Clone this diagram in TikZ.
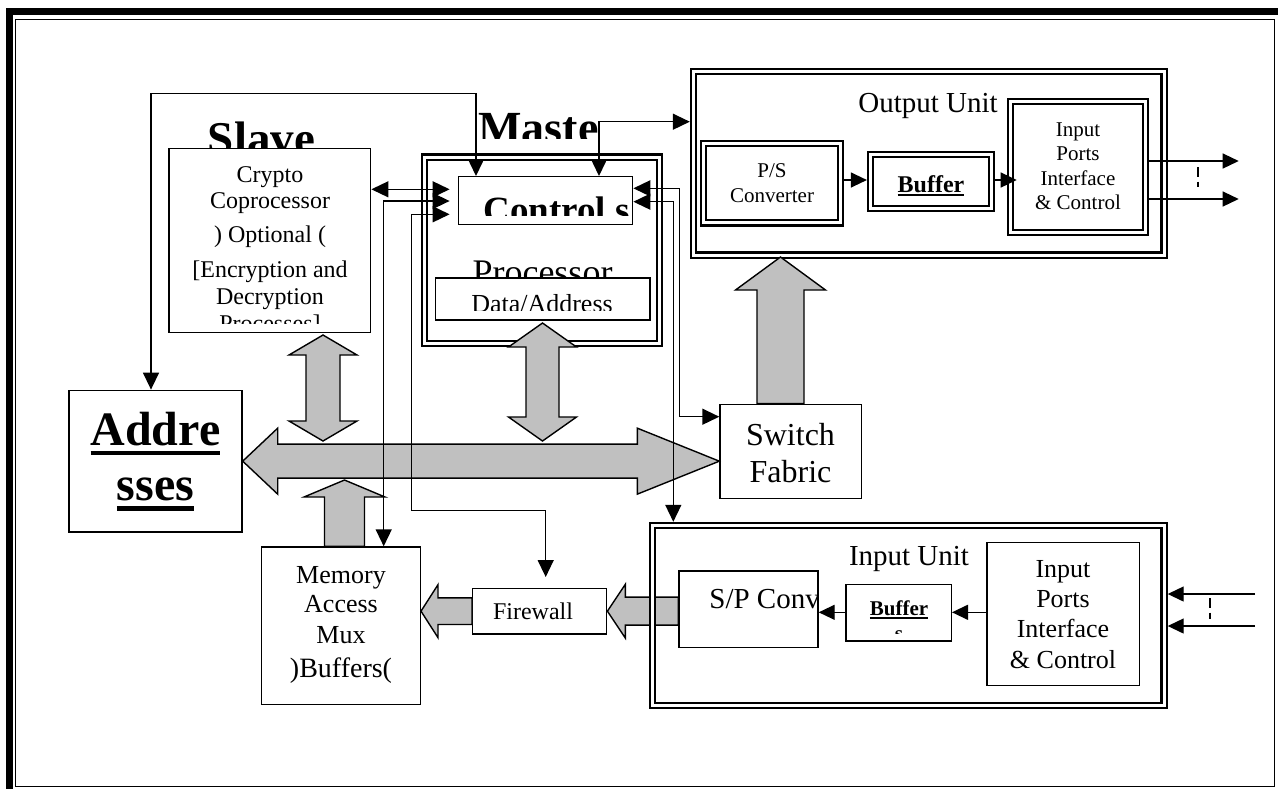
\documentclass[tikz,border=0pt]{standalone}
\usepackage{fontspec}
\setmainfont{Liberation Serif}
\usetikzlibrary{arrows.meta,fit}
\definecolor{busgray}{RGB}{192,192,192}
% underline with chosen depth (#1) and thickness (#2)
\newcommand\ulbar[3]{\leavevmode\setbox0=\hbox{#3}\rlap{\rule[-#1]{\wd0}{#2}}\box0}
\newcommand\fs[1]{\fontsize{#1}{#1}\selectfont}
% block arrows: vertical two-headed, horizontal two-headed, upward, leftward
\newcommand\vbiarrow[5]{%
  \filldraw[blk] (#1) -- ([shift={(#3,#5)}]#1) -- ([shift={(#4,#5)}]#1) -- ([shift={(#4,-#5)}]#2) -- ([shift={(#3,-#5)}]#2) -- (#2) -- ([shift={(-#3,-#5)}]#2) -- ([shift={(-#4,-#5)}]#2) -- ([shift={(-#4,#5)}]#1) -- ([shift={(-#3,#5)}]#1) -- cycle;}
\newcommand\hbiarrow[6]{%
  \filldraw[blk] (#1) -- ([shift={(#5,-#3)}]#1) -- ([shift={(#5,-#4)}]#1) -- ([shift={(-#6,-#4)}]#2) -- ([shift={(-#6,-#3)}]#2) -- (#2) -- ([shift={(-#6,#3)}]#2) -- ([shift={(-#6,#4)}]#2) -- ([shift={(#5,#4)}]#1) -- ([shift={(#5,#3)}]#1) -- cycle;}
\newcommand\upblk[5]{%
  \filldraw[blk] (#1) -- ([shift={(#3,#5)}]#1) -- ([shift={(#4,#5)}]#1) -- ([shift={(#4,0)}]#2) -- ([shift={(-#4,0)}]#2) -- ([shift={(-#4,#5)}]#1) -- ([shift={(-#3,#5)}]#1) -- cycle;}
\newcommand\leftblk[5]{%
  \filldraw[blk] (#1) -- ([shift={(#5,-#3)}]#1) -- ([shift={(#5,-#4)}]#1) -- ([shift={(0,-#4)}]#2) -- ([shift={(0,#4)}]#2) -- ([shift={(#5,#4)}]#1) -- ([shift={(#5,#3)}]#1) -- cycle;}
\begin{document}
\begin{tikzpicture}[x=0.5pt,y=-0.5pt,
  box/.style={draw, line width=0.7pt, fill=white, inner sep=0pt},
  dbl/.style={draw, line width=1.1pt, double=white, double distance=1.5pt, inner sep=0pt, outer sep=1.85pt},
  txt/.style={inner sep=0pt, anchor=base},
  link/.style={line width=0.7pt, {Triangle[length=8.5pt,width=8pt]}-{Triangle[length=8.5pt,width=8pt]}},
  feed/.style={line width=0.65pt, -{Triangle[length=8pt,width=7.5pt]}},
  blk/.style={fill=busgray, draw=black, line width=0.7pt, line join=miter},
  tick/.style={line width=0.6pt, dash pattern=on 4.7pt off 2.5pt}]
\useasboundingbox (0,0) rectangle (1278,789);

% page frame
\draw[line width=3.35pt] (1278,11.7) -- (9.3,11.7) -- (9.3,789);
\draw[line width=0.7pt] (15.3,19.3) rectangle (1274.3,786.7);

% ---- boxes ----
\node[box, fit={(169,148.3) (370.7,332.7)}] (crypto) {};
\node[dbl, fit={(424.5,157) (659.5,343.5)}] (proc) {};
\node[box, fit={(458.3,176.7) (632.7,224.3)}] (ctrl) {};
\node[box, fit={(69,390.3) (242,532)}] (addr) {};
\node[box, fit={(261.7,547) (420.3,704.7)}] (mem) {};
\node[box, fit={(720,404.3) (861.7,498.3)}] (sw) {};
\node[box, fit={(472.7,588.3) (606.7,634)}] (fw) {};
\node[dbl, fit={(693.5,71.7) (1164,255)}] (outu) {};
\node[dbl, fill=white, fit={(703.5,143.3) (840.7,222.8)}] (ps) {};
\node[dbl, fill=white, fit={(870.6,154.7) (991.2,208.3)}] (obuf) {};
\node[dbl, fill=white, fit={(1010.4,101.7) (1145.5,232.5)}] (oipi) {};

% ---- block arrows (bus) ----
\coordinate (busL) at (addr.east);
\coordinate (busR) at (sw.west |- busL);
\hbiarrow{busL}{busR}{33}{17}{35}{82}
\coordinate (cbT) at (323,335);
\coordinate (cbB) at (323,441);
\vbiarrow{cbT}{cbB}{34}{17}{20}
\coordinate (dbT) at (542.5,323);
\coordinate (dbB) at (542.5,441);
\vbiarrow{dbT}{dbB}{34}{16.5}{24}
\coordinate (mT) at (344.5,480);
\coordinate (mB) at (mT |- mem.north);
\upblk{mT}{mB}{40.5}{20}{17}
\coordinate (oT) at (780.5,257);
\coordinate (oB) at (oT |- sw.north);
\upblk{oT}{oB}{45}{23.5}{33}

\node[box, fit={(679,571) (818,647.3)}] (sp) {};
\node[box, fit={(846,584.3) (951.3,641)}] (ibuf) {};
\node[box, fit={(987,542.3) (1139.5,685.7)}] (iipi) {};
\coordinate (fwT) at (mem.east |- fw.west);
\leftblk{fwT}{fw.west}{26.5}{13.3}{17}
\coordinate (spT) at (fw.east);
\coordinate (spE) at (sp.west |- fw.east);
\leftblk{spT}{spE}{27}{14}{18}
\node[dbl, fit={(652.5,525.5) (1164,705.5)}] (inu) {};

% ---- labels ----
\begin{scope}
  \clip (150,80) rectangle (380,148.3);
  \node[txt, font={\bfseries\fs{23.5}}] (slavelbl) at (261.5,154) {Slave};
\end{scope}
\begin{scope}
  \clip (470,80) rectangle (597,138);
  \node[txt, anchor=base west, font={\bfseries\fs{23}}] (masterlbl) at (478,143) {Maste};
\end{scope}
\begin{scope}
  \clip (430,240) rectangle (655,277);
  \node[txt, font=\fs{18}] (proclbl) at (542.5,284) {Processor};
\end{scope}
\node[box, fit={(435.3,278) (650,320)}] (da) {};
\begin{scope}
  \clip (437,279) rectangle (648,310);
  \node[txt, font=\fs{13}] (dalbl) at (542,312) {Data/Address};
\end{scope}
\begin{scope}
  \clip (460,178) rectangle (631,215);
  \node[txt, anchor=base west, font={\bfseries\fs{18.5}}] (ctrllbl) at (483,222) {Control s:};
\end{scope}
\begin{scope}[every node/.style={txt, font=\fs{12}}]
  \clip (170,149) rectangle (370,323);
  \node (cr1) at (270,182) {Crypto};
  \node (cr2) at (270,208) {Coprocessor};
  \node (cr3) at (270,242) {) Optional (};
  \node (cr4) at (270,277) {[Encryption and};
  \node (cr5) at (270,304) {Decryption};
  \node (cr6) at (270,331) {Processes]};
\end{scope}

\node[txt, font=\fs{14.5}] (outlbl) at (928,112) {Output Unit};
\node[txt, font=\fs{10.5}] (ps1) at (772,177) {P/S};
\node[txt, font=\fs{10.5}] (ps2) at (772,202) {Converter};
\node[txt, font={\bfseries\fs{12}}] (obuflbl) at (931,192) {\ulbar{2pt}{0.85pt}{Buffer}};
\node[txt, font=\fs{10.5}] (op1) at (1078,136) {Input};
\node[txt, font=\fs{10.5}] (op2) at (1078,160) {Ports};
\node[txt, font=\fs{10.5}] (op3) at (1078,185) {Interface};
\node[txt, font=\fs{10.5}] (op4) at (1078,209) {\& Control};

\node[txt, font=\fs{16}] (sw1) at (790.5,445) {Switch};
\node[txt, font=\fs{16}] (sw2) at (790.5,482) {Fabric};

\node[txt, font={\bfseries\fs{24}}] (ad1) at (155.5,445) {\ulbar{5pt}{2pt}{Addre}};
\node[txt, font={\bfseries\fs{24}}] (ad2) at (155.5,500) {\ulbar{5.3pt}{2.2pt}{sses}};

\node[txt, font=\fs{13}] (me1) at (341,583) {Memory};
\node[txt, font=\fs{13}] (me2) at (341,612) {Access};
\node[txt, font=\fs{13}] (me3) at (341,643) {Mux};
\node[txt, font=\fs{14}] (me4) at (341,677) {)Buffers(};

\node[txt, font=\fs{12}] (fwlbl) at (533,619) {Firewall};
\begin{scope}
  \clip (680,572) rectangle (816.5,646);
  \node[txt, anchor=base west, font=\fs{14.5}] (splbl) at (709,608) {S/P Conv};
\end{scope}
\node[txt, font=\fs{14.5}] (inlbl) at (909,565) {Input Unit};
\begin{scope}
  \clip (847,585) rectangle (950,633);
  \node[txt, font={\bfseries\fs{10.5}}] (ib1) at (899,615) {\ulbar{1.85pt}{0.7pt}{Buffer}};
  \node[txt, font={\bfseries\fs{10.5}}] (ib2) at (899,640) {s};
\end{scope}
\node[txt, font=\fs{13}] (ip1) at (1063,577) {Input};
\node[txt, font=\fs{13}] (ip2) at (1063,607) {Ports};
\node[txt, font=\fs{13}] (ip3) at (1063,637) {Interface};
\node[txt, font=\fs{13}] (ip4) at (1063,668) {\& Control};

% ---- control links ----
\coordinate (a1) at (151,93.3);
\coordinate (a2) at (476,93.3);
\draw[link] (a1 |- addr.north) -- (a1) -- (a2) -- (a2 |- ctrl.north);
\coordinate (k1) at (0,189.3);
\draw[link, shorten >=4pt] (crypto.east |- k1) -- (ctrl.west |- k1);
\coordinate (m1) at (383.7,201);
\draw[link, shorten <=4pt] (ctrl.west |- m1) -- (m1) -- (m1 |- mem.north);
\coordinate (f1) at (411.5,214.3);
\coordinate (f2) at (411.5,510.7);
\coordinate (f3) at (545.7,510.7);
\draw[link, shorten <=4pt, shorten >=5.3pt] (ctrl.west |- f1) -- (f1) -- (f2) -- (f3) -- (f3 |- fw.north);
\coordinate (s1) at (679.3,188.3);
\coordinate (s2) at (679.3,416.7);
\draw[link] (ctrl.east |- s1) -- (s1) -- (s2) -- (sw.west |- s2);
\coordinate (u1) at (673.3,201.7);
\draw[link] (ctrl.east |- u1) -- (u1) -- (u1 |- inu.north);
\coordinate (o1) at (599,121.7);
\draw[link] (o1 |- ctrl.north) -- (o1) -- (outu.west |- o1);

% ---- data paths inside the units ----
\coordinate (h1) at (0,180);
\draw[feed] (ps.east |- h1) -- (obuf.west |- h1);
\draw[feed, shorten >=-5pt] (obuf.east |- h1) -- (oipi.west |- h1);
\coordinate (h2) at (0,612.3);
\draw[feed] (iipi.west |- h2) -- (ibuf.east |- h2);
\draw[feed] (ibuf.west |- h2) -- (sp.east |- h2);

% ---- external ports ----
\coordinate (x1) at (1238.7,161);
\coordinate (x2) at (1238.7,199);
\draw[feed] (oipi.east |- x1) -- (x1);
\draw[feed] (oipi.east |- x2) -- (x2);
\draw[tick] (1198,167.3) -- (1198,187.3);
\coordinate (i1) at (1255,594);
\coordinate (i2) at (1255,626);
\draw[feed] (i1) -- (inu.east |- i1);
\draw[feed] (i2) -- (inu.east |- i2);
\draw[tick] (1210,598.3) -- (1210,619.3);
\end{tikzpicture}
\end{document}
